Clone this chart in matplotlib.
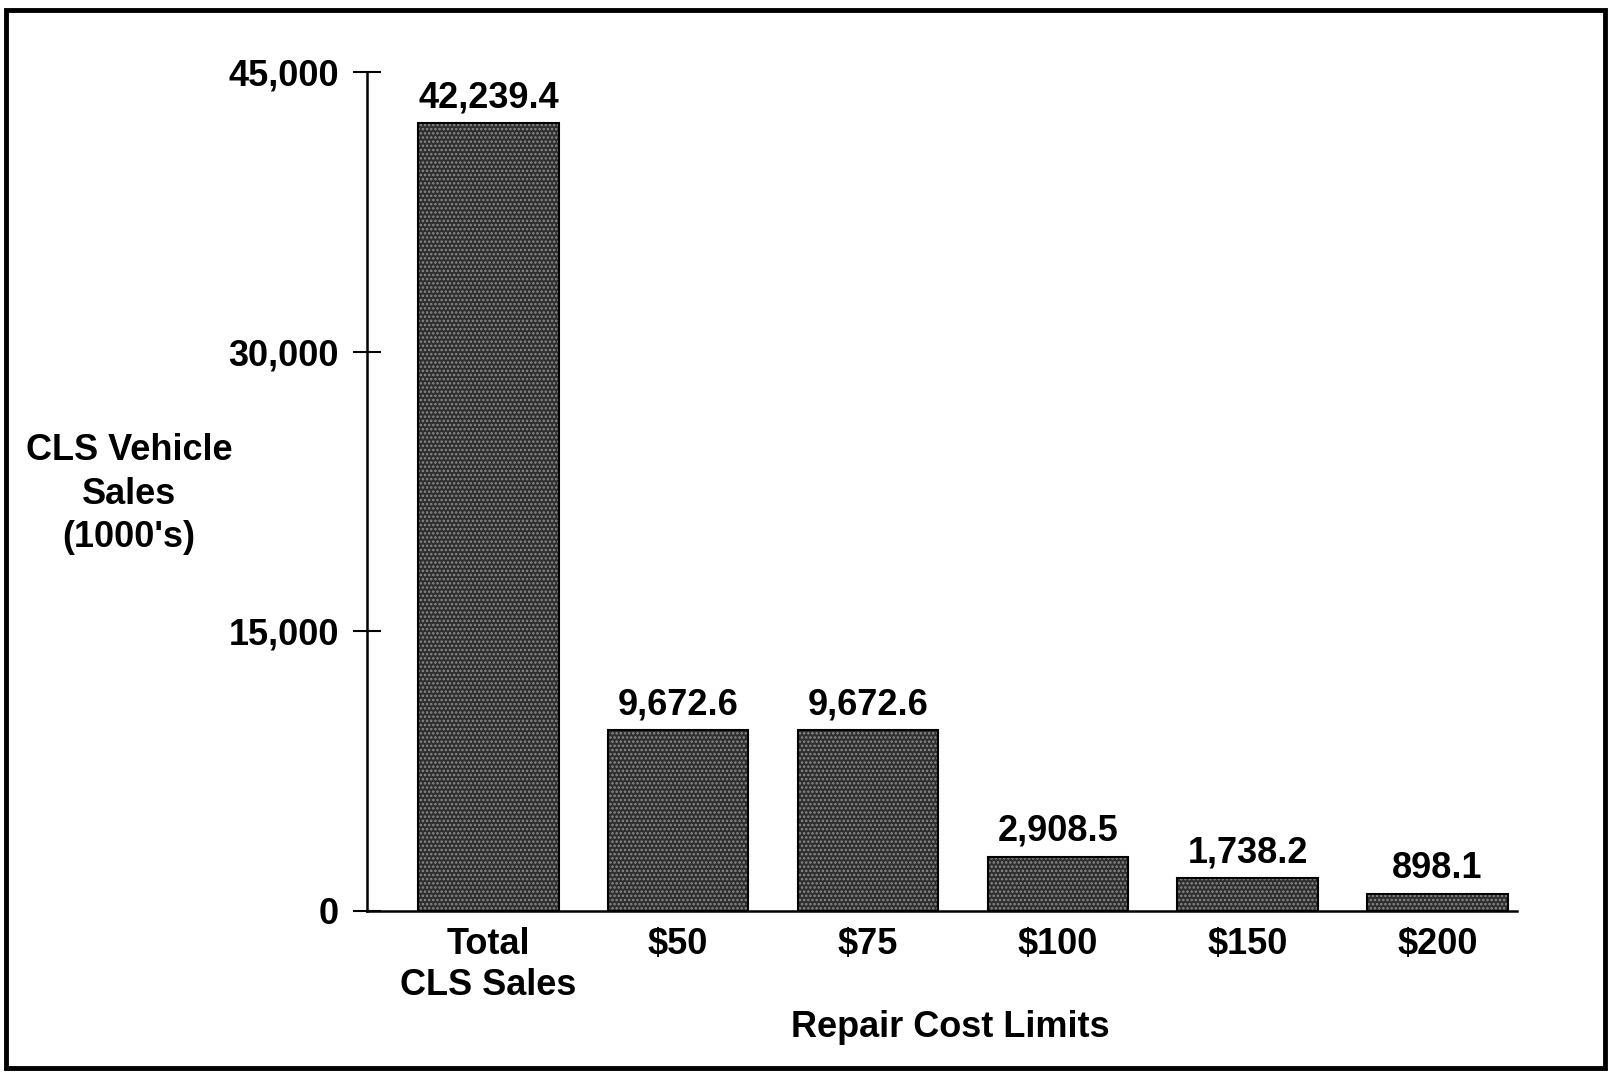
import matplotlib
matplotlib.use("Agg")
import matplotlib.pyplot as plt
from matplotlib.patches import Rectangle
from matplotlib.ticker import FuncFormatter

plt.rcParams['font.family'] = ['Liberation Sans', 'DejaVu Sans']
plt.rcParams['font.weight'] = 'bold'
plt.rcParams['hatch.linewidth'] = 1.2

categories = ["Total\nCLS Sales", "$50", "$75", "$100", "$150", "$200"]
sales = [42239.4, 9672.6, 9672.6, 2908.5, 1738.2, 898.1]
yticks = [0, 15000, 30000, 45000]

fig = plt.figure(figsize=(16.13, 10.74), dpi=100)
ax = fig.add_axes([0.2275, 0.152, 0.713, 0.781])

x = range(len(sales))
# dark stippled fill, then a plain black outline on top
ax.bar(x, sales, width=0.74, color='#2e2e2e', hatch='....', edgecolor='#8c8c8c', linewidth=0)
ax.bar(x, sales, width=0.74, fill=False, edgecolor='black', linewidth=1.5)

for i, v in enumerate(sales):
    ax.text(i, v + 850, "{:,.1f}".format(v), ha='center', va='baseline', fontsize=26, fontweight='bold')

ax.set_xlim(-0.64, 5.42)
ax.set_ylim(0, 45000)
ax.set_yticks(yticks)
ax.yaxis.set_major_formatter(FuncFormatter(lambda v, p: "{:,.0f}".format(v)))
ax.set_xticks(list(x))
ax.set_xticklabels(categories, fontsize=26, fontweight='bold', linespacing=1.2)
ax.tick_params(axis='x', length=0, pad=12)
ax.tick_params(axis='y', direction='inout', length=20, width=1.5, labelsize=26, pad=10)

for s in ['top', 'right']:
    ax.spines[s].set_visible(False)
ax.spines['left'].set_linewidth(1.8)
ax.spines['bottom'].set_linewidth(1.8)

fig.text(0.08, 0.54, "CLS Vehicle\nSales\n(1000's)", ha='center', va='center',
         fontsize=26, fontweight='bold', linespacing=1.3)
fig.text(0.589, 0.043, "Repair Cost Limits", ha='center', va='center', fontsize=26, fontweight='bold')

# outer frame around the whole chart
fig.patches.append(Rectangle((0.004, 0.006), 0.991, 0.985, transform=fig.transFigure,
                             fill=False, edgecolor='black', linewidth=3.5))

fig.savefig("out.png", dpi=100, facecolor='white')
